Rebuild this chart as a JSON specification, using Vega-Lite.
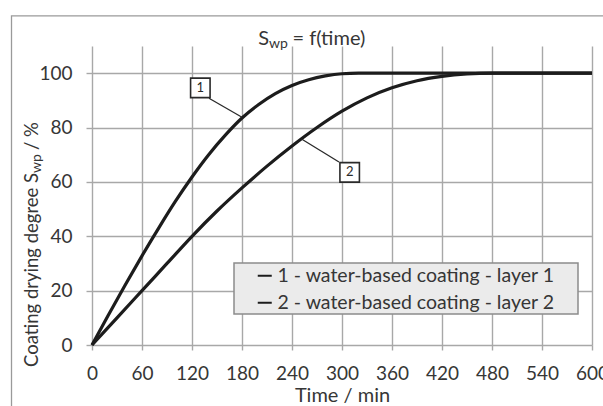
{
  "$schema": "https://vega.github.io/schema/vega-lite/v6.json",
  "width": 500,
  "height": 299,
  "autosize": {"type": "none"},
  "padding": {"left": 92, "top": 46, "right": 11, "bottom": 61},
  "background": "white",
  "config": {
    "view": {"stroke": null},
    "font": "Lato",
    "axis": {
      "gridColor": "#a8a8a8", "gridWidth": 1.4, "gridOpacity": 1,
      "tickColor": "#a8a8a8", "tickWidth": 1.4,
      "domain": false,
      "labelFont": "Lato", "labelFontSize": 19, "labelColor": "#363636",
      "titleFont": "Lato", "titleFontSize": 20, "titleColor": "#363636", "titleFontWeight": "normal"
    },
    "legend": {
      "orient": "none", "legendX": 163, "legendY": 220,
      "symbolType": "stroke", "symbolSize": 196, "symbolStrokeWidth": 2,
      "labelFont": "Lato", "labelFontSize": 19.5, "labelColor": "#363636", "labelOffset": 3,
      "rowPadding": 6, "padding": 0, "labelLimit": 500
    },
    "text": {"font": "Lato", "fill": "#363636"}
  },
  "datasets": {
    "curves": [
      {"s": "1 - water-based coating - layer 1", "t": 0, "v": 0},
      {"s": "1 - water-based coating - layer 1", "t": 20, "v": 11.2},
      {"s": "1 - water-based coating - layer 1", "t": 40, "v": 22.2},
      {"s": "1 - water-based coating - layer 1", "t": 60, "v": 32.8},
      {"s": "1 - water-based coating - layer 1", "t": 80, "v": 43.0},
      {"s": "1 - water-based coating - layer 1", "t": 100, "v": 52.8},
      {"s": "1 - water-based coating - layer 1", "t": 120, "v": 61.8},
      {"s": "1 - water-based coating - layer 1", "t": 140, "v": 70.0},
      {"s": "1 - water-based coating - layer 1", "t": 160, "v": 77.2},
      {"s": "1 - water-based coating - layer 1", "t": 180, "v": 83.5},
      {"s": "1 - water-based coating - layer 1", "t": 200, "v": 88.5},
      {"s": "1 - water-based coating - layer 1", "t": 220, "v": 92.5},
      {"s": "1 - water-based coating - layer 1", "t": 240, "v": 95.5},
      {"s": "1 - water-based coating - layer 1", "t": 260, "v": 97.6},
      {"s": "1 - water-based coating - layer 1", "t": 280, "v": 99.0},
      {"s": "1 - water-based coating - layer 1", "t": 300, "v": 99.8},
      {"s": "1 - water-based coating - layer 1", "t": 320, "v": 100},
      {"s": "1 - water-based coating - layer 1", "t": 360, "v": 100},
      {"s": "1 - water-based coating - layer 1", "t": 420, "v": 100},
      {"s": "1 - water-based coating - layer 1", "t": 480, "v": 100},
      {"s": "1 - water-based coating - layer 1", "t": 540, "v": 100},
      {"s": "1 - water-based coating - layer 1", "t": 600, "v": 100},
      {"s": "2 - water-based coating - layer 2", "t": 0, "v": 0},
      {"s": "2 - water-based coating - layer 2", "t": 30, "v": 10},
      {"s": "2 - water-based coating - layer 2", "t": 60, "v": 20},
      {"s": "2 - water-based coating - layer 2", "t": 90, "v": 30},
      {"s": "2 - water-based coating - layer 2", "t": 120, "v": 40},
      {"s": "2 - water-based coating - layer 2", "t": 150, "v": 49.3},
      {"s": "2 - water-based coating - layer 2", "t": 180, "v": 57.8},
      {"s": "2 - water-based coating - layer 2", "t": 210, "v": 65.8},
      {"s": "2 - water-based coating - layer 2", "t": 240, "v": 73.2},
      {"s": "2 - water-based coating - layer 2", "t": 270, "v": 80.0},
      {"s": "2 - water-based coating - layer 2", "t": 300, "v": 86.0},
      {"s": "2 - water-based coating - layer 2", "t": 330, "v": 90.9},
      {"s": "2 - water-based coating - layer 2", "t": 360, "v": 94.6},
      {"s": "2 - water-based coating - layer 2", "t": 390, "v": 97.2},
      {"s": "2 - water-based coating - layer 2", "t": 420, "v": 98.8},
      {"s": "2 - water-based coating - layer 2", "t": 450, "v": 99.7},
      {"s": "2 - water-based coating - layer 2", "t": 480, "v": 100},
      {"s": "2 - water-based coating - layer 2", "t": 540, "v": 100},
      {"s": "2 - water-based coating - layer 2", "t": 600, "v": 100}
    ],
    "leaders": [
      {"t": 140.4, "v": 90.8, "t2": 180, "v2": 83.8},
      {"t": 296.4, "v": 67.3, "t2": 251.4, "v2": 75.8}
    ],
    "callouts": [
      {"n": "1", "t": 130, "v": 94.6},
      {"n": "2", "t": 309.2, "v": 63.5}
    ]
  },
  "encoding": {
    "x": {"field": "t", "type": "quantitative",
      "scale": {"domain": [0, 600], "nice": false, "zero": false},
      "axis": {"values": [0, 60, 120, 180, 240, 300, 360, 420, 480, 540, 600], "title": "Time / min",
        "tickSize": 5, "labelPadding": 14, "titlePadding": 2, "labelFlush": false, "labelOverlap": false}},
    "y": {"field": "v", "type": "quantitative",
      "scale": {"domain": [0, 110], "nice": false, "zero": false},
      "axis": {"values": [0, 20, 40, 60, 80, 100], "title": null, "tickSize": 6, "labelPadding": 14}}
  },
  "layer": [
    {
      "data": {"values": [{"t": -96.6, "v": 121.1, "t2": 800, "v2": -60}]},
      "mark": {"type": "rect", "fill": "transparent", "stroke": "#9a9a9a", "strokeWidth": 1.3},
      "encoding": {"x2": {"field": "t2"}, "y2": {"field": "v2"}}
    },
    {
      "data": {"values": [{"t": 170.4, "v": 30.2, "t2": 583.2, "v2": 11.4}]},
      "mark": {"type": "rect", "fill": "#ebebeb", "stroke": "#8c8c8c", "strokeWidth": 1.5},
      "encoding": {"x2": {"field": "t2"}, "y2": {"field": "v2"}}
    },
    {
      "data": {"name": "curves"},
      "mark": {"type": "line", "strokeWidth": 3.2, "interpolate": "monotone"},
      "encoding": {
        "color": {"field": "s", "type": "nominal",
          "scale": {"range": ["#1c1c1c", "#1c1c1c"]},
          "legend": {"title": null}}
      }
    },
    {
      "data": {"name": "leaders"},
      "mark": {"type": "rule", "stroke": "#2a2a2a", "strokeWidth": 1.3},
      "encoding": {"x2": {"field": "t2"}, "y2": {"field": "v2"}}
    },
    {
      "data": {"name": "callouts"},
      "mark": {"type": "point", "shape": "square", "size": 380, "filled": true, "fill": "white", "stroke": "#2a2a2a", "strokeWidth": 1.6, "opacity": 1}
    },
    {
      "data": {"name": "callouts"},
      "mark": {"type": "text", "fontSize": 13, "align": "center", "baseline": "middle", "fill": "#2a2a2a"},
      "encoding": {"text": {"field": "n"}}
    },
    {
      "data": {"values": [{"t": 212.4, "v": 110.4, "p": "S"}]},
      "mark": {"type": "text", "fontSize": 20, "align": "right", "baseline": "alphabetic"},
      "encoding": {"text": {"field": "p"}}
    },
    {
      "data": {"values": [{"t": 212.4, "v": 110.4, "p": "wp"}]},
      "mark": {"type": "text", "fontSize": 14, "align": "left", "baseline": "alphabetic", "dy": 3},
      "encoding": {"text": {"field": "p"}}
    },
    {
      "data": {"values": [{"t": 240.5, "v": 110.4, "p": "= f(time)"}]},
      "mark": {"type": "text", "fontSize": 20, "align": "left", "baseline": "alphabetic"},
      "encoding": {"text": {"field": "p"}}
    },
    {
      "data": {"values": [{"t": -65.4, "v": 63.3, "p": "Coating drying degree S"}]},
      "mark": {"type": "text", "fontSize": 18.5, "align": "right", "baseline": "alphabetic", "angle": 270},
      "encoding": {"text": {"field": "p"}}
    },
    {
      "data": {"values": [{"t": -65.4, "v": 63.3, "p": "wp"}]},
      "mark": {"type": "text", "fontSize": 14, "align": "left", "baseline": "alphabetic", "angle": 270, "dy": 3},
      "encoding": {"text": {"field": "p"}}
    },
    {
      "data": {"values": [{"t": -65.4, "v": 71.7, "p": "/ %"}]},
      "mark": {"type": "text", "fontSize": 18.5, "align": "left", "baseline": "alphabetic", "angle": 270},
      "encoding": {"text": {"field": "p"}}
    }
  ]
}
